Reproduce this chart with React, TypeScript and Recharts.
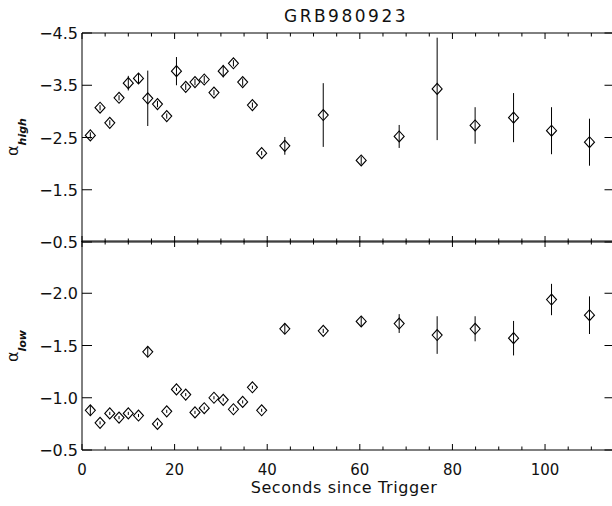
import React from 'react';
import { ScatterChart, Scatter, XAxis, YAxis, ErrorBar } from 'recharts';

const times = [1.8, 3.9, 6.0, 8.0, 10.0, 12.2, 14.2, 16.3, 18.3, 20.4, 22.4, 24.4, 26.4, 28.5, 30.5, 32.7, 34.7, 36.8, 38.8, 43.8, 52.1, 60.3, 68.5, 76.7, 84.9, 93.2, 101.4, 109.6];
const alphaHigh = [-2.54, -3.07, -2.78, -3.26, -3.54, -3.63, -3.25, -3.14, -2.91, -3.77, -3.47, -3.56, -3.61, -3.36, -3.77, -3.92, -3.56, -3.12, -2.2, -2.34, -2.93, -2.06, -2.52, -3.43, -2.73, -2.88, -2.63, -2.41];
const alphaHighErr = [0.06, 0.05, 0.05, 0.05, 0.14, 0.1, 0.53, 0.06, 0.05, 0.27, 0.06, 0.06, 0.07, 0.05, 0.12, 0.06, 0.07, 0.05, 0.04, 0.17, 0.61, 0.08, 0.22, 0.98, 0.35, 0.47, 0.45, 0.45];
const alphaLow = [-0.88, -0.76, -0.85, -0.81, -0.85, -0.83, -1.44, -0.75, -0.87, -1.08, -1.03, -0.86, -0.9, -1.0, -0.98, -0.89, -0.96, -1.1, -0.88, -1.66, -1.64, -1.73, -1.71, -1.6, -1.66, -1.57, -1.94, -1.79];
const alphaLowErr = [0.05, 0.015, 0.015, 0.015, 0.015, 0.015, 0.05, 0.015, 0.015, 0.015, 0.015, 0.015, 0.015, 0.015, 0.015, 0.015, 0.015, 0.015, 0.015, 0.05, 0.02, 0.05, 0.09, 0.18, 0.12, 0.165, 0.15, 0.18];

const xTicks = [0, 5, 10, 15, 20, 25, 30, 35, 40, 45, 50, 55, 60, 65, 70, 75, 80, 85, 90, 95, 100, 105, 110];
const highTicks = [-4.5, -3.5, -2.5, -1.5, -0.5];
const lowTicks = [-2.0, -1.5, -1.0, -0.5];
const xDomain = [0, 115];
const highDomain = [-4.5, -0.5];
const lowDomain = [-2.5, -0.5];

const highData = times.map((t, i) => ({ t, a: alphaHigh[i], e: alphaHighErr[i] }));
const lowData = times.map((t, i) => ({ t, a: alphaLow[i], e: alphaLowErr[i] }));

const FONT = '"DejaVu Sans", sans-serif';
const INK = '#000';

const Diamond = (props: any) => {
  const { cx, cy } = props;
  if (cx == null || cy == null) return null;
  return (
    <path
      d={`M${cx - 5},${cy} L${cx},${cy - 5.5} L${cx + 5},${cy} L${cx},${cy + 5.5} Z`}
      fill="none"
      stroke={INK}
      strokeWidth={1.1}
    />
  );
};

const fmt = (v: number) => (v < 0 ? '\u2212' + Math.abs(v).toFixed(1) : v.toFixed(1));

const makeXTick = (dir: number, showLabel: boolean) => (p: any) => {
  const { x, y, payload } = p;
  const major = payload.value % 20 === 0;
  const len = major ? 6 : 3.5;
  return (
    <g>
      <line x1={x} y1={y} x2={x} y2={y + dir * len} stroke={INK} strokeWidth={1} />
      {showLabel && major ? (
        <text x={x} y={y + 25} textAnchor="middle" fontFamily={FONT} fontSize={15} fill="#111">
          {payload.value}
        </text>
      ) : null}
    </g>
  );
};

const makeYTick = (dir: number, showLabel: boolean) => (p: any) => {
  const { x, y, payload } = p;
  return (
    <g>
      <line x1={x} y1={y} x2={x + dir * 10} y2={y} stroke={INK} strokeWidth={1} />
      {showLabel ? (
        <text x={x - 4} y={y + 6} textAnchor="end" fontFamily={FONT} fontSize={16} fill="#111">
          {fmt(payload.value)}
        </text>
      ) : null}
    </g>
  );
};

const Panel = ({ data, domain, ticks, top, bottom, showX }: any) => (
  <ScatterChart
    width={620}
    height={506}
    margin={{ top: top - 1, bottom: bottom - 1, left: 81, right: 4.5 }}
    style={{ position: 'absolute', left: 0, top: 0 }}
  >
    <XAxis
      xAxisId="b"
      dataKey="t"
      type="number"
      orientation="bottom"
      domain={xDomain}
      ticks={xTicks}
      interval={0}
      height={1}
      tickSize={0}
      tickMargin={0}
      tickLine={false}
      axisLine={{ stroke: INK, strokeWidth: 1 }}
      tick={makeXTick(-1, showX)}
    />
    <XAxis
      xAxisId="t"
      dataKey="t"
      type="number"
      orientation="top"
      domain={xDomain}
      ticks={xTicks}
      interval={0}
      height={1}
      tickSize={0}
      tickMargin={0}
      tickLine={false}
      axisLine={{ stroke: INK, strokeWidth: 1 }}
      tick={makeXTick(1, false)}
    />
    <YAxis
      yAxisId="l"
      dataKey="a"
      type="number"
      orientation="left"
      domain={domain}
      reversed
      ticks={ticks}
      interval={0}
      width={1}
      tickSize={0}
      tickMargin={0}
      tickLine={false}
      axisLine={{ stroke: INK, strokeWidth: 1 }}
      tick={makeYTick(1, true)}
    />
    <YAxis
      yAxisId="r"
      dataKey="a"
      type="number"
      orientation="right"
      domain={domain}
      reversed
      ticks={ticks}
      interval={0}
      width={1}
      tickSize={0}
      tickMargin={0}
      tickLine={false}
      axisLine={{ stroke: INK, strokeWidth: 1 }}
      tick={makeYTick(-1, false)}
    />
    <Scatter data={data} xAxisId="b" yAxisId="l" shape={Diamond} isAnimationActive={false}>
      <ErrorBar dataKey="e" direction="y" width={0} stroke={INK} strokeWidth={1} isAnimationActive={false} />
    </Scatter>
    <Scatter data={data} xAxisId="t" yAxisId="r" shape={() => null} isAnimationActive={false} />
  </ScatterChart>
);

export default function App() {
  return (
    <div
      style={{
        position: 'absolute',
        left: 0,
        top: 0,
        width: 612,
        height: 506,
        overflow: 'hidden',
        background: '#fff',
      }}
    >
      <Panel data={highData} domain={highDomain} ticks={highTicks} top={33} bottom={264} showX={false} />
      <Panel data={lowData} domain={lowDomain} ticks={lowTicks} top={241} bottom={56} showX={true} />
      <svg width={612} height={506} style={{ position: 'absolute', left: 0, top: 0, pointerEvents: 'none' }}>
        <text x={346} y={21.7} textAnchor="middle" fontFamily={FONT} fontSize={17} letterSpacing={2.5} fill="#111">
          GRB980923
        </text>
        <text x={344} y={493} textAnchor="middle" fontFamily={FONT} fontSize={16} letterSpacing={0.6} fill="#111">
          Seconds since Trigger
        </text>
        <text transform="translate(18,137) rotate(-90)" textAnchor="middle" fontFamily={FONT} fill="#111">
          <tspan fontSize={16}>α</tspan>
          <tspan fontSize={11} fontStyle="italic" fontWeight="bold" dy={8}>high</tspan>
        </text>
        <text transform="translate(18,346) rotate(-90)" textAnchor="middle" fontFamily={FONT} fill="#111">
          <tspan fontSize={16}>α</tspan>
          <tspan fontSize={11} fontStyle="italic" fontWeight="bold" dy={8}>low</tspan>
        </text>
      </svg>
    </div>
  );
}
